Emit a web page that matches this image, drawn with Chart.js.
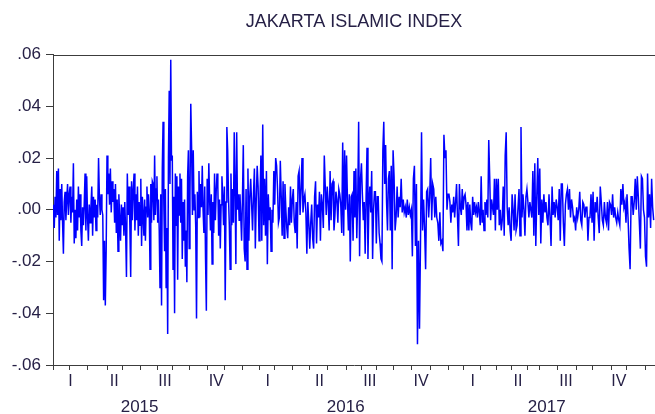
<!DOCTYPE html>
<html>
<head>
<meta charset="utf-8">
<title>Jakarta Islamic Index</title>
<script src="https://cdn.jsdelivr.net/npm/chart.js@4.4.1/dist/chart.umd.min.js"></script>
<style>
  html, body { margin: 0; padding: 0; background: #fff; overflow: hidden; }
  #wrap { width: 655px; height: 414px; }
</style>
</head>
<body>
<div id="wrap"><canvas id="jiiChart" width="655" height="414"></canvas></div>
<script>
// Daily returns of the index, one array per quarter
const q2015_1 = [
  .002, -.007, .005, -.003, .015, -.002, .016, -.012, .008, -.004,
  .010, -.005, -.017, .003, .007, -.004, .004, .010, -.002, .006,
  .009, -.005, .005, -.001, .018, -.013, .000, -.011, .004, -.008,
  .009, -.003, .006, -.008, -.014, .001, -.006, .002, .014, -.008,
  .013, -.003
];
const q2015_2 = [
  -.012, .002, -.005, .001, .009, -.010, .005, -.003, .004, -.008,
  .002, -.003, .020, .005, -.002, .006, .000, -.002, -.035, -.012,
  -.037, -.016, .021, .006, .014, .002, .016, -.001, .011, .003,
  .008, -.005, .010, -.009, .004, -.016, .006, -.003, -.012, .002,
  -.006, .001, -.010, .003, -.008, -.026, .014, -.002, .009, -.006,
  -.026, .011, -.004, .008, .014, -.008, .006, -.004, .009, -.010,
  .003, -.006
];
const q2015_3 = [
  .012, -.014, .005, -.002, -.010, .004, -.012, .001, .009, -.003,
  .006, .000, -.023, .010, -.005, .011, .010, -.004, .021, -.002,
  .008, .013, -.005, .004, -.008, -.030, .006, -.037, .016, .034,
  .002, -.016, .008, -.030, -.007, -.048, .020, .046, .010, .058,
  .019, .021, -.023, .005, -.040, .014, -.006, .013, -.027, .009,
  -.002, .014, -.005, .012, -.019, .003, -.012, .004, -.022, -.008,
  -.028, .013, .023, -.015
];
const q2015_4 = [
  .005, .041, .024, -.002, .023, .000, .006, -.006, -.042, .007,
  -.003, .015, -.003, .010, .001, .017, .000, -.009, .009, -.019,
  -.039, .012, -.002, .018, .004, -.008, .006, -.021, .003, -.009,
  .014, -.004, .007, .014, .009, -.010, .004, -.015, .002, .013,
  .005, -.006, .009, -.035, .003, .032, .023, .005, -.006, -.023,
  .014, -.006, .008, -.005, .030, .010, -.021, .030, .000, .006,
  -.004, .006, -.003, -.012, .004
];
const q2016_1 = [
  .025, -.015, -.020, .008, -.023, .016, -.012, .005, .012, .002,
  -.008, .006, .016, -.015, .004, .017, .009, -.012, .003, .021,
  -.012, .033, -.006, .012, -.010, .015, -.021, .006, -.004, .001,
  -.016, .000, -.005, .015, .002, .020, .017, .008, -.005, -.003,
  .019, .005, -.010, .011, -.011, .010, .000, -.007, -.011, .001,
  -.006, .009, -.005, .004
];
const q2016_2 = [
  .008, -.005, -.009, .003, -.015, .013, .015, -.002, .008, .020,
  -.001, .004, .006, -.001, -.017, .003, -.005, -.015, -.005, .002,
  -.011, -.015, .005, .011, -.013, .002, -.003, .007, -.012, .006,
  .002, -.007, .021, .009, -.002, .009, .003, -.008, .015, -.004,
  .010, .011, -.008, -.002, .007, .004, -.005, .008, .006, .002,
  -.009, .026, -.010, .023, .000
];
const q2016_3 = [
  .021, .003, -.008, .006, -.020, .005, .006, -.012, .015, -.003,
  .016, -.011, .004, .034, -.018, .012, .018, .006, -.004, .003,
  -.017, .005, .024, -.019, .002, .009, -.001, .015, -.019, .000,
  .007, .007, -.013, .005, .005, -.009, -.013, -.019, -.020, .023,
  .034, .010, .025, .003, -.008, .012, .015, -.008, .017, -.023,
  .023
];
const q2016_4 = [
  .013, -.008, -.003, .009, -.003, .005, .001, .012, -.001, .004,
  -.001, .001, -.003, .004, -.002, .001, -.002, .000, -.018, .012,
  .017, -.014, .010, -.052, -.012, -.046, -.012, .030, -.008, .004,
  -.007, -.023, .007, .008, -.003, .005, .020, -.004, .010, .008,
  -.003, .005, -.003, -.005, -.012, -.001, -.013, -.012, -.016, .029,
  .020, .023, .000, .006
];
const q2017_1 = [
  .006, .003, -.005, .002, -.001, .005, -.003, .003, .010, -.003,
  -.014, .010, .001, -.002, .008, .000, .005, .006, .002, -.008,
  .003, -.008, .002, -.005, -.008, .005, -.002, .003, -.001, .001,
  -.003, .003, -.001, -.006, .013, -.005, .000, -.008, .003, -.002,
  .004, -.003, .027, .013, -.004, .004, .001, -.002, .012, -.008,
  .012
];
const q2017_2 = [
  .000, .012, -.006, .000, -.008, -.004, .009, -.010, .021, .030,
  .001, -.006, .001, -.008, -.012, .006, .000, -.008, .006, -.008,
  -.006, .001, .008, -.010, .032, -.003, .006, .000, -.010, .005,
  .008, .003, -.003, .003, .000, -.003, .015, -.010, .018, -.014,
  .005, .020, -.002
];
const q2017_3 = [
  .016, -.013, .004, -.005, .006, -.001, .003, -.003, -.006, .006,
  -.003, -.014, .009, -.002, .003, -.003, .004, .001, -.004, .008,
  -.012, .010, .010, -.005, -.014, .002, .006, .008, .000, .008,
  -.003, .004, .001, -.004, -.003, -.008, .001, -.003, .000, .007,
  -.004, -.006, .003, .002, -.003, .001, .001, -.012, -.003, -.003,
  .006, -.005
];
const q2017_4 = [
  .007, -.012, .003, -.001, .005, -.003, -.009, .009, .003, -.004,
  -.006, .003, -.003, -.005, .003, -.008, .003, .002, -.002, .006,
  -.003, .001, -.003, -.005, -.001, -.004, -.006, .008, .002, .010,
  .001, .003, -.005, .006, -.003, -.015, -.023, .005, .005, -.002,
  .003, .012, .000, .013, .005, -.005, -.015, .013, .012, .000,
  -.003
];
const q2018_1 = [-.018, -.022, .014, -.003, .006, -.007, .012, .001, -.004];

const quarterSeries = [q2015_1, q2015_2, q2015_3, q2015_4, q2016_1, q2016_2, q2016_3,
                       q2016_4, q2017_1, q2017_2, q2017_3, q2017_4, q2018_1];
const quarterLabels = ['I', 'II', 'III', 'IV'];
const years = ['2015', '2016', '2017'];

// Trading days per month, Jan 2015 .. Dec 2017, then the part of Jan 2018 in the sample
const monthDays = [
  20, 20, 22, 23, 18, 22, 20, 19, 20, 22, 20, 22,
  20, 18, 22, 20, 22, 22, 19, 18, 20, 22, 22, 22,
  18, 20, 20, 18, 19, 14, 22, 23, 19, 23, 18, 22,
  11
];
const firstMonth = 1; // sample starts in February 2015

const textColor = '#262046';
const axisColor = '#3c3c3c';
const fontFamily = "'Liberation Sans', Arial, sans-serif";

// x axis runs in trading days
const monthStart = [0];
monthDays.forEach(d => monthStart.push(monthStart[monthStart.length - 1] + d));
const xMin = monthStart[firstMonth];
const xMax = monthStart[monthStart.length - 1] + 1;

const points = [];
const quarterMid = [];
quarterSeries.forEach((vals, q) => {
    const a = monthStart[Math.max(3 * q, firstMonth)];
    const b = monthStart[Math.min(3 * q + 3, monthDays.length)];
    vals.forEach((v, j) => points.push({ x: a + (j + 0.5) * (b - a) / vals.length, y: v }));
    if (q < years.length * 4) quarterMid.push((a + b) / 2);
});
const yearMid = years.map((y, i) => (monthStart[12 * i] + monthStart[12 * i + 12]) / 2);
const monthTicks = monthStart.slice(firstMonth, 12 * years.length + 1);

function fmtReturn(v) {
    if (Math.abs(v) < 1e-9) return '.00';
    return v.toFixed(2).replace('0.', '.');
}

// top edge of the frame
const frameTop = {
    id: 'frameTop',
    afterDraw(chart) {
        const { ctx, chartArea } = chart;
        ctx.save();
        ctx.strokeStyle = axisColor;
        ctx.lineWidth = 1;
        ctx.beginPath();
        ctx.moveTo(chartArea.left, Math.round(chartArea.top) + 0.5);
        ctx.lineTo(chartArea.right, Math.round(chartArea.top) + 0.5);
        ctx.stroke();
        ctx.restore();
    }
};

const ctx = document.getElementById('jiiChart').getContext('2d');
new Chart(ctx, {
    type: 'line',
    data: {
        datasets: [{
            data: points,
            borderColor: '#0000ff',
            borderWidth: 1.5,
            pointRadius: 0,
            tension: 0,
            fill: false,
            xAxisID: 'x',
            yAxisID: 'y'
        }]
    },
    options: {
        responsive: false,
        animation: false,
        events: [],
        layout: { padding: 0 },
        plugins: {
            legend: { display: false },
            tooltip: { enabled: false },
            title: {
                display: true,
                text: 'JAKARTA ISLAMIC INDEX',
                fullSize: false,
                color: textColor,
                font: { family: fontFamily, size: 18, weight: 'normal' },
                padding: { top: 11, bottom: 22 }
            }
        },
        scales: {
            y: {
                min: -0.06,
                max: 0.06,
                ticks: {
                    stepSize: 0.02,
                    color: textColor,
                    font: { family: fontFamily, size: 17 },
                    padding: 5,
                    callback: v => fmtReturn(v)
                },
                grid: { drawOnChartArea: false, tickLength: 7, color: axisColor },
                border: { color: axisColor, width: 1 },
                afterFit: s => { s.width = 53; }
            },
            x: {
                type: 'linear',
                position: 'bottom',
                min: xMin,
                max: xMax,
                afterBuildTicks: s => { s.ticks = monthTicks.map(v => ({ value: v })); },
                ticks: { display: false },
                grid: { drawOnChartArea: false, tickLength: 5, color: axisColor },
                border: { color: axisColor, width: 1 },
                afterFit: s => { s.height = 5; }
            },
            xq: {
                type: 'linear',
                position: 'bottom',
                min: xMin,
                max: xMax,
                afterBuildTicks: s => { s.ticks = quarterMid.map(v => ({ value: v })); },
                ticks: {
                    autoSkip: false,
                    maxRotation: 0,
                    padding: 2,
                    color: textColor,
                    font: { family: fontFamily, size: 16 },
                    callback: (v, i) => quarterLabels[i % 4]
                },
                grid: { display: false, drawTicks: false },
                border: { display: false },
                afterFit: s => { s.height = 22; }
            },
            xy: {
                type: 'linear',
                position: 'bottom',
                min: xMin,
                max: xMax,
                afterBuildTicks: s => { s.ticks = yearMid.map(v => ({ value: v })); },
                ticks: {
                    autoSkip: false,
                    maxRotation: 0,
                    padding: 5,
                    color: textColor,
                    font: { family: fontFamily, size: 17 },
                    callback: (v, i) => years[i]
                },
                grid: { display: false, drawTicks: false },
                border: { display: false },
                afterFit: s => { s.height = 22; }
            }
        }
    },
    plugins: [frameTop]
});
</script>
</body>
</html>
